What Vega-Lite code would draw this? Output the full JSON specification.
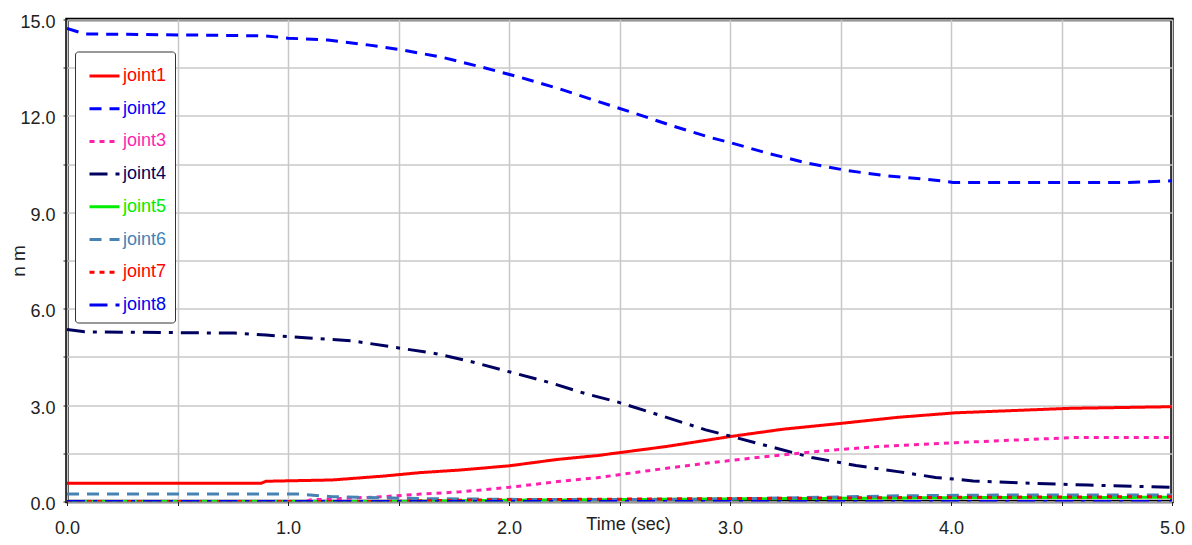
{
  "$schema": "https://vega.github.io/schema/vega-lite/v6.json",
  "width": 1105,
  "height": 482,
  "autosize": "none",
  "padding": {"left": 67, "top": 19.5, "right": 20, "bottom": 43.5},
  "background": "white",
  "config": {
    "view": {"stroke": "black", "strokeWidth": 3.5},
    "font": "Liberation Sans"
  },
  "data": {
    "values": [
      {"t": 0, "v": 0.57, "s": "joint1"}, {"t": 0.88, "v": 0.57, "s": "joint1"}, {"t": 0.9, "v": 0.63, "s": "joint1"}, {"t": 1.2, "v": 0.67, "s": "joint1"}, {"t": 1.43, "v": 0.79, "s": "joint1"}, {"t": 1.6, "v": 0.9, "s": "joint1"}, {"t": 1.78, "v": 0.98, "s": "joint1"}, {"t": 2.0, "v": 1.11, "s": "joint1"}, {"t": 2.22, "v": 1.31, "s": "joint1"}, {"t": 2.4, "v": 1.43, "s": "joint1"}, {"t": 2.71, "v": 1.71, "s": "joint1"}, {"t": 3.0, "v": 2.02, "s": "joint1"}, {"t": 3.24, "v": 2.25, "s": "joint1"}, {"t": 3.5, "v": 2.43, "s": "joint1"}, {"t": 3.76, "v": 2.62, "s": "joint1"}, {"t": 4.02, "v": 2.76, "s": "joint1"}, {"t": 4.28, "v": 2.83, "s": "joint1"}, {"t": 4.54, "v": 2.9, "s": "joint1"}, {"t": 5.0, "v": 2.95, "s": "joint1"},
      {"t": 0, "v": 14.72, "s": "joint2"}, {"t": 0.08, "v": 14.55, "s": "joint2"}, {"t": 0.52, "v": 14.52, "s": "joint2"}, {"t": 0.9, "v": 14.49, "s": "joint2"}, {"t": 1.0, "v": 14.42, "s": "joint2"}, {"t": 1.18, "v": 14.36, "s": "joint2"}, {"t": 1.36, "v": 14.21, "s": "joint2"}, {"t": 1.52, "v": 14.05, "s": "joint2"}, {"t": 1.7, "v": 13.82, "s": "joint2"}, {"t": 1.87, "v": 13.53, "s": "joint2"}, {"t": 2.05, "v": 13.2, "s": "joint2"}, {"t": 2.22, "v": 12.86, "s": "joint2"}, {"t": 2.38, "v": 12.5, "s": "joint2"}, {"t": 2.56, "v": 12.1, "s": "joint2"}, {"t": 2.74, "v": 11.69, "s": "joint2"}, {"t": 2.91, "v": 11.33, "s": "joint2"}, {"t": 3.0, "v": 11.17, "s": "joint2"}, {"t": 3.17, "v": 10.84, "s": "joint2"}, {"t": 3.35, "v": 10.53, "s": "joint2"}, {"t": 3.53, "v": 10.3, "s": "joint2"}, {"t": 3.71, "v": 10.13, "s": "joint2"}, {"t": 3.89, "v": 10.03, "s": "joint2"}, {"t": 4.01, "v": 9.93, "s": "joint2"}, {"t": 4.8, "v": 9.93, "s": "joint2"}, {"t": 5.0, "v": 9.98, "s": "joint2"},
      {"t": 0, "v": 0, "s": "joint3"}, {"t": 1.08, "v": 0, "s": "joint3"}, {"t": 1.1, "v": 0.05, "s": "joint3"}, {"t": 1.43, "v": 0.15, "s": "joint3"}, {"t": 1.6, "v": 0.23, "s": "joint3"}, {"t": 1.78, "v": 0.3, "s": "joint3"}, {"t": 2.0, "v": 0.44, "s": "joint3"}, {"t": 2.22, "v": 0.62, "s": "joint3"}, {"t": 2.4, "v": 0.74, "s": "joint3"}, {"t": 2.63, "v": 0.96, "s": "joint3"}, {"t": 2.89, "v": 1.19, "s": "joint3"}, {"t": 3.15, "v": 1.39, "s": "joint3"}, {"t": 3.41, "v": 1.57, "s": "joint3"}, {"t": 3.67, "v": 1.71, "s": "joint3"}, {"t": 4.02, "v": 1.83, "s": "joint3"}, {"t": 4.28, "v": 1.91, "s": "joint3"}, {"t": 4.56, "v": 1.99, "s": "joint3"}, {"t": 5.0, "v": 1.99, "s": "joint3"},
      {"t": 0, "v": 5.35, "s": "joint4"}, {"t": 0.08, "v": 5.28, "s": "joint4"}, {"t": 0.76, "v": 5.24, "s": "joint4"}, {"t": 0.9, "v": 5.18, "s": "joint4"}, {"t": 1.11, "v": 5.08, "s": "joint4"}, {"t": 1.29, "v": 5.0, "s": "joint4"}, {"t": 1.49, "v": 4.79, "s": "joint4"}, {"t": 1.67, "v": 4.6, "s": "joint4"}, {"t": 1.83, "v": 4.35, "s": "joint4"}, {"t": 2.01, "v": 4.02, "s": "joint4"}, {"t": 2.19, "v": 3.69, "s": "joint4"}, {"t": 2.35, "v": 3.35, "s": "joint4"}, {"t": 2.49, "v": 3.1, "s": "joint4"}, {"t": 2.68, "v": 2.69, "s": "joint4"}, {"t": 2.89, "v": 2.23, "s": "joint4"}, {"t": 3.01, "v": 2.02, "s": "joint4"}, {"t": 3.18, "v": 1.71, "s": "joint4"}, {"t": 3.37, "v": 1.37, "s": "joint4"}, {"t": 3.57, "v": 1.12, "s": "joint4"}, {"t": 3.76, "v": 0.93, "s": "joint4"}, {"t": 3.93, "v": 0.75, "s": "joint4"}, {"t": 4.1, "v": 0.64, "s": "joint4"}, {"t": 4.36, "v": 0.57, "s": "joint4"}, {"t": 4.62, "v": 0.51, "s": "joint4"}, {"t": 5.0, "v": 0.44, "s": "joint4"},
      {"t": 0, "v": 0, "s": "joint5"}, {"t": 1.5, "v": 0, "s": "joint5"}, {"t": 2.0, "v": 0.04, "s": "joint5"}, {"t": 2.5, "v": 0.06, "s": "joint5"}, {"t": 3.0, "v": 0.08, "s": "joint5"}, {"t": 3.5, "v": 0.1, "s": "joint5"}, {"t": 4.0, "v": 0.12, "s": "joint5"}, {"t": 5.0, "v": 0.13, "s": "joint5"},
      {"t": 0, "v": 0.23, "s": "joint6"}, {"t": 1.05, "v": 0.23, "s": "joint6"}, {"t": 1.2, "v": 0.15, "s": "joint6"}, {"t": 1.6, "v": 0.09, "s": "joint6"}, {"t": 2.1, "v": 0.06, "s": "joint6"}, {"t": 2.6, "v": 0.06, "s": "joint6"}, {"t": 3.0, "v": 0.08, "s": "joint6"}, {"t": 3.4, "v": 0.13, "s": "joint6"}, {"t": 3.8, "v": 0.18, "s": "joint6"}, {"t": 4.2, "v": 0.2, "s": "joint6"}, {"t": 5.0, "v": 0.2, "s": "joint6"},
      {"t": 0, "v": 0, "s": "joint7"}, {"t": 1.4, "v": 0, "s": "joint7"}, {"t": 1.9, "v": 0.05, "s": "joint7"}, {"t": 2.4, "v": 0.07, "s": "joint7"}, {"t": 3.0, "v": 0.09, "s": "joint7"}, {"t": 3.5, "v": 0.11, "s": "joint7"}, {"t": 4.0, "v": 0.13, "s": "joint7"}, {"t": 5.0, "v": 0.15, "s": "joint7"},
      {"t": 0, "v": 0, "s": "joint8"}, {"t": 5.0, "v": 0, "s": "joint8"}
    ]
  },
  "mark": {"type": "line", "strokeWidth": 3, "clip": true},
  "encoding": {
    "x": {
      "field": "t", "type": "quantitative",
      "scale": {"domain": [0, 5], "nice": false},
      "axis": {
        "values": [0, 0.5, 1, 1.5, 2, 2.5, 3, 3.5, 4, 4.5, 5],
        "labelExpr": "datum.value % 1 === 0 ? format(datum.value, '.1f') : ''",
        "title": "Time (sec)",
        "titleFontWeight": "normal",
        "titleFontSize": 18,
        "titleColor": "#222",
        "titleBaseline": "middle",
        "titleAlign": "center",
        "titleX": 561,
        "titleY": 23,
        "labelFontSize": 18,
        "labelColor": "#222",
        "labelPadding": 14,
        "labelFlush": false,
        "domain": false,
        "tickColor": "#222",
        "tickSize": 4,
        "gridColor": "#c8c8c8",
        "gridWidth": 1.5
      }
    },
    "y": {
      "field": "v", "type": "quantitative",
      "scale": {"domain": [0, 15], "nice": false},
      "axis": {
        "values": [0, 1.5, 3, 4.5, 6, 7.5, 9, 10.5, 12, 13.5, 15],
        "labelExpr": "datum.value % 3 === 0 ? format(datum.value, '.1f') : ''",
        "title": "n m",
        "titleFontWeight": "normal",
        "titleFontSize": 19,
        "titleColor": "#222",
        "titleX": -49,
        "titleY": 241,
        "titleAlign": "center",
        "titleBaseline": "middle",
        "labelFontSize": 18,
        "labelColor": "#222",
        "labelPadding": 8,
        "labelOffset": 3,
        "labelFlush": false,
        "domain": false,
        "tickColor": "#222",
        "tickSize": 4,
        "gridColor": "#c8c8c8",
        "gridWidth": 1.5
      }
    },
    "color": {
      "field": "s", "type": "nominal",
      "scale": {
        "domain": ["joint1", "joint2", "joint3", "joint4", "joint5", "joint6", "joint7", "joint8"],
        "range": ["#ff0000", "#0000ff", "#ff1fae", "#000060", "#00ee00", "#4682b4", "#ff0000", "#0000ee"]
      },
      "legend": {
        "title": null,
        "orient": "none",
        "legendX": 8,
        "legendY": 32,
        "padding": 8,
        "symbolType": "stroke",
        "symbolSize": 900,
        "symbolStrokeWidth": 3,
        "symbolOffset": 5,
        "labelFontSize": 18,
        "labelOffset": 2,
        "rowPadding": 6.7,
        "strokeColor": "#333",
        "fillColor": "white",
        "cornerRadius": 3,
        "encode": {"labels": {"update": {"fill": {"scale": "color", "field": "value"}}}}
      }
    },
    "strokeDash": {
      "field": "s", "type": "nominal",
      "scale": {
        "domain": ["joint1", "joint2", "joint3", "joint4", "joint5", "joint6", "joint7", "joint8"],
        "range": [[1, 0], [12, 8], [5, 5], [18, 8, 4, 8], [1, 0], [12, 8], [5, 5], [18, 8, 4, 8]]
      },
      "legend": {
        "title": null,
        "orient": "none",
        "legendX": 8,
        "legendY": 32,
        "padding": 8,
        "symbolType": "stroke",
        "symbolSize": 900,
        "symbolStrokeWidth": 3,
        "symbolOffset": 5,
        "labelFontSize": 18,
        "labelOffset": 2,
        "rowPadding": 6.7,
        "strokeColor": "#333",
        "fillColor": "white",
        "cornerRadius": 3,
        "encode": {"labels": {"update": {"fill": {"scale": "color", "field": "value"}}}}
      }
    }
  }
}
